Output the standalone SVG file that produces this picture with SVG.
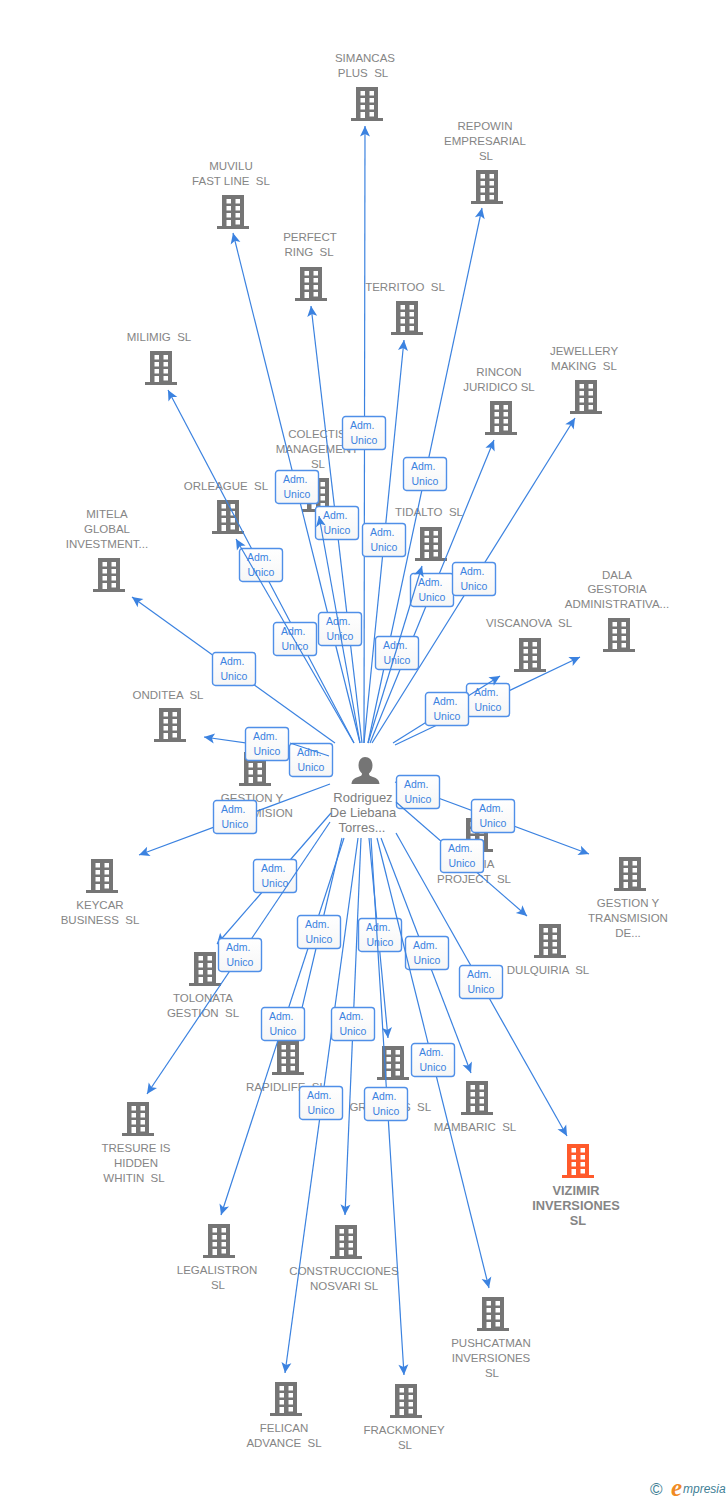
<svg xmlns="http://www.w3.org/2000/svg" width="728" height="1500" viewBox="0 0 728 1500">
<style>
text{font-family:"Liberation Sans",Arial,sans-serif;white-space:pre}
.n{font-size:11.500px;fill:#858585;text-anchor:middle}
.p{font-size:13px;fill:#7d7d7d;text-anchor:middle}
.v{font-size:12.800px;font-weight:bold;fill:#858585;text-anchor:middle}
.l{stroke:#3b82e0;stroke-width:1.2;fill:none}
.a{marker-end:url(#ah)}
.b{fill:url(#bg);stroke:#4f8fe8;stroke-width:1.4}
.t{font-size:10.500px;fill:#3b82e0}
.g{fill:#757575}.o{fill:#ff5a2b}
</style>
<defs>
<linearGradient id="bg" x1="0" y1="0" x2="0" y2="1"><stop offset="0" stop-color="#fff"/><stop offset="1" stop-color="#f6f6f6"/></linearGradient>
<marker id="ah" markerUnits="userSpaceOnUse" markerWidth="14" markerHeight="14" refX="12" refY="7" orient="auto"><path d="M12,7 L1.500,2 L4,7 L1.500,12Z" fill="#3b82e0"/></marker>
<symbol id="bld" width="32" height="34" viewBox="0 0 32 34" overflow="visible"><path fill-rule="evenodd" d="M0,31H5V0H27V31H32V34H0Z M9.500,4V8.500H14V4Z M18.500,4V8.500H23V4Z M9.500,11V15.500H14V11Z M18.500,11V15.500H23V11Z M9.500,18V22.500H14V18Z M18.500,18V22.500H23V18Z M9.500,25V31H14V25Z M18.500,25V29.500H23V25Z"/></symbol>
<g id="adm"><rect class="b" x="0.500" y="0.500" width="43" height="33" rx="3"/><text class="t" x="8" y="13">Adm.</text><text class="t" x="8.500" y="28">Unico</text></g>
</defs>
<g id="nodes">
<g id="n1"><use href="#bld" class="g" x="351" y="87"/><text class="n" x="365" y="62">SIMANCAS</text><text class="n" x="363" y="77">PLUS  SL</text></g>
<g id="n2"><use href="#bld" class="g" x="471" y="170"/><text class="n" x="485" y="130">REPOWIN</text><text class="n" x="485" y="145">EMPRESARIAL</text><text class="n" x="486" y="160">SL</text></g>
<g id="n3"><use href="#bld" class="g" x="217" y="195"/><text class="n" x="231" y="170">MUVILU</text><text class="n" x="231" y="185">FAST LINE  SL</text></g>
<g id="n4"><use href="#bld" class="g" x="295" y="267"/><text class="n" x="310" y="241">PERFECT</text><text class="n" x="309" y="256">RING  SL</text></g>
<g id="n5"><use href="#bld" class="g" x="391" y="301"/><text class="n" x="405" y="291">TERRITOO  SL</text></g>
<g id="n6"><use href="#bld" class="g" x="145" y="351"/><text class="n" x="159" y="341">MILIMIG  SL</text></g>
<g id="n7"><use href="#bld" class="g" x="485" y="401"/><text class="n" x="499" y="376">RINCON</text><text class="n" x="499" y="391">JURIDICO SL</text></g>
<g id="n8"><use href="#bld" class="g" x="570" y="380"/><text class="n" x="584" y="355">JEWELLERY</text><text class="n" x="584" y="370">MAKING  SL</text></g>
<g id="n9"><use href="#bld" class="g" x="302" y="478"/><text class="n" x="317" y="438">COLECTIS</text><text class="n" x="317" y="453">MANAGEMENT</text><text class="n" x="318" y="468">SL</text></g>
<g id="n10"><use href="#bld" class="g" x="212" y="500"/><text class="n" x="226" y="490">ORLEAGUE  SL</text></g>
<g id="n11"><use href="#bld" class="g" x="415" y="527"/><text class="n" x="429" y="516">TIDALTO  SL</text></g>
<g id="n12"><use href="#bld" class="g" x="93" y="558"/><text class="n" x="107" y="518">MITELA</text><text class="n" x="107" y="533">GLOBAL</text><text class="n" x="107" y="548">INVESTMENT...</text></g>
<g id="n13"><use href="#bld" class="g" x="603" y="618"/><text class="n" x="617" y="579">DALA</text><text class="n" x="617" y="593">GESTORIA</text><text class="n" x="617" y="608">ADMINISTRATIVA...</text></g>
<g id="n14"><use href="#bld" class="g" x="514" y="638"/><text class="n" x="529" y="627">VISCANOVA  SL</text></g>
<g id="n15"><use href="#bld" class="g" x="154" y="708"/><text class="n" x="168" y="699">ONDITEA  SL</text></g>
<g id="n16"><use href="#bld" class="g" x="239" y="752"/><text class="n" x="252" y="802">GESTION Y</text><text class="n" x="253" y="817">TRANSMISION</text><text class="n" x="253" y="832">...</text></g>
<g id="n17"><use href="#bld" class="g" x="86" y="859"/><text class="n" x="100" y="909">KEYCAR</text><text class="n" x="100" y="924">BUSINESS  SL</text></g>
<g id="n18"><use href="#bld" class="g" x="614" y="857"/><text class="n" x="628" y="907">GESTION Y</text><text class="n" x="628" y="922">TRANSMISION</text><text class="n" x="628" y="937">DE...</text></g>
<g id="n19"><use href="#bld" class="g" x="461" y="818"/><text class="n" x="489" y="868">IA</text><text class="n" x="474" y="883">PROJECT  SL</text></g>
<g id="n20"><use href="#bld" class="g" x="534" y="924"/><text class="n" x="548" y="974">DULQUIRIA  SL</text></g>
<g id="n21"><use href="#bld" class="g" x="189" y="952"/><text class="n" x="203" y="1002">TOLONATA</text><text class="n" x="203" y="1017">GESTION  SL</text></g>
<g id="n22"><use href="#bld" class="g" x="272" y="1041"/><text class="n" x="286" y="1091">RAPIDLIFE  SL</text></g>
<g id="n23"><use href="#bld" class="g" x="377" y="1046"/><text class="n" x="358" y="1111">GR</text><text class="n" x="417" y="1111">S  SL</text></g>
<g id="n24"><use href="#bld" class="g" x="461" y="1081"/><text class="n" x="475" y="1131">MAMBARIC  SL</text></g>
<g id="n25"><use href="#bld" class="g" x="122" y="1102"/><text class="n" x="136" y="1152">TRESURE IS</text><text class="n" x="136" y="1167">HIDDEN</text><text class="n" x="134" y="1182">WHITIN  SL</text></g>
<g id="n26"><use href="#bld" class="o" x="562" y="1144"/><text class="v" x="576" y="1195">VIZIMIR</text><text class="v" x="576" y="1210">INVERSIONES</text><text class="v" x="578" y="1225">SL</text></g>
<g id="n27"><use href="#bld" class="g" x="203" y="1224"/><text class="n" x="217" y="1274">LEGALISTRON</text><text class="n" x="218" y="1289">SL</text></g>
<g id="n28"><use href="#bld" class="g" x="330" y="1225"/><text class="n" x="344" y="1275">CONSTRUCCIONES</text><text class="n" x="344" y="1290">NOSVARI SL</text></g>
<g id="n29"><use href="#bld" class="g" x="477" y="1297"/><text class="n" x="491" y="1347">PUSHCATMAN</text><text class="n" x="491" y="1362">INVERSIONES</text><text class="n" x="492" y="1377">SL</text></g>
<g id="n30"><use href="#bld" class="g" x="270" y="1382"/><text class="n" x="284" y="1432">FELICAN</text><text class="n" x="284" y="1447">ADVANCE  SL</text></g>
<g id="n31"><use href="#bld" class="g" x="390" y="1384"/><text class="n" x="404" y="1434">FRACKMONEY</text><text class="n" x="405" y="1449">SL</text></g>
<g id="person"><path class="g" d="M365,757c5,0 7.500,4 7.500,8.500c0,3.500 -1.500,6.500 -3.500,8c0,2 1,2.500 4,3.500c4,1.500 6,2.500 6.500,7h-28c0.500,-4.500 2.500,-5.500 6.500,-7c3,-1 4,-1.500 4,-3.500c-2,-1.500 -3.500,-4.500 -3.500,-8c0,-4.500 2.500,-8.500 6.500,-8.500z"/><text class="p" x="363" y="802">Rodriguez</text><text class="p" x="363" y="817">De Liebana</text><text class="p" x="362" y="832">Torres...</text></g>
</g>
<g id="connectors">
<line class="l a" x1="364" y1="743" x2="365" y2="126"/><use href="#adm" x="342" y="416"/>
<line class="l a" x1="360" y1="743" x2="233" y2="233"/><use href="#adm" x="275" y="470"/>
<line class="l a" x1="362" y1="743" x2="311" y2="306"/><use href="#adm" x="315" y="506"/>
<line class="l a" x1="368" y1="743" x2="482" y2="208"/><use href="#adm" x="403" y="457"/>
<line class="l a" x1="364" y1="743" x2="404" y2="340"/><use href="#adm" x="362" y="523"/>
<line class="l a" x1="354" y1="743" x2="168" y2="390"/><use href="#adm" x="239" y="548"/>
<line class="l a" x1="370" y1="743" x2="494" y2="440"/><use href="#adm" x="410" y="573"/>
<line class="l a" x1="372" y1="743" x2="575" y2="418"/><use href="#adm" x="452" y="562"/>
<use href="#adm" x="318" y="612"/><line class="l a" x1="360" y1="743" x2="319" y2="516"/>
<use href="#adm" x="273" y="622"/><line class="l a" x1="354" y1="743" x2="236" y2="539"/>
<use href="#adm" x="375" y="636"/><line class="l a" x1="368" y1="743" x2="422" y2="566"/>
<line class="l a" x1="335" y1="743" x2="132" y2="597"/><use href="#adm" x="212" y="652"/>
<line class="l a" x1="395" y1="745" x2="580" y2="657"/><use href="#adm" x="466" y="683"/>
<line class="l a" x1="393" y1="743" x2="500" y2="676"/><use href="#adm" x="425" y="692"/>
<line class="l a" x1="330" y1="755" x2="204" y2="737"/>
<use href="#adm" x="289" y="743"/><line class="l" x1="290" y1="743" x2="329" y2="756"/><use href="#adm" x="245" y="727"/>
<line class="l a" x1="330" y1="784" x2="139" y2="855"/><use href="#adm" x="213" y="800"/>
<line class="l a" x1="395" y1="782" x2="589" y2="854"/><use href="#adm" x="471" y="799"/><use href="#adm" x="396" y="775"/>
<line class="l a" x1="396" y1="802" x2="527" y2="916"/><use href="#adm" x="440" y="839"/>
<line class="l a" x1="331" y1="813" x2="217" y2="944"/><use href="#adm" x="253" y="859"/>
<line class="l a" x1="330" y1="822" x2="147" y2="1094"/><use href="#adm" x="218" y="938"/>
<line class="l a" x1="344" y1="838" x2="221" y2="1215"/>
<line class="l" x1="342" y1="838" x2="298" y2="1025"/><use href="#adm" x="297" y="915"/><use href="#adm" x="261" y="1007"/>
<line class="l a" x1="358" y1="838" x2="285" y2="1373"/><use href="#adm" x="299" y="1086"/>
<line class="l a" x1="361" y1="838" x2="345" y2="1215"/><use href="#adm" x="331" y="1007"/>
<line class="l a" x1="369" y1="838" x2="388" y2="1038"/><use href="#adm" x="358" y="918"/>
<line class="l a" x1="371" y1="838" x2="404" y2="1375"/><use href="#adm" x="364" y="1087"/>
<line class="l a" x1="381" y1="838" x2="471" y2="1073"/><use href="#adm" x="405" y="936"/>
<line class="l a" x1="377" y1="838" x2="489" y2="1288"/><use href="#adm" x="411" y="1043"/>
<line class="l a" x1="396" y1="833" x2="567" y2="1136"/><use href="#adm" x="459" y="965"/>
</g>
<g id="logo"><text x="650" y="1495" font-size="17" fill="#3f7f96">©</text><text x="671" y="1496" font-size="25" font-style="italic" font-weight="bold" fill="#f08a24" style='font-family:"Liberation Serif",serif'>e</text><text x="683" y="1493" font-size="12" font-style="italic" fill="#3f7f96">mpresia</text></g>
</svg>
